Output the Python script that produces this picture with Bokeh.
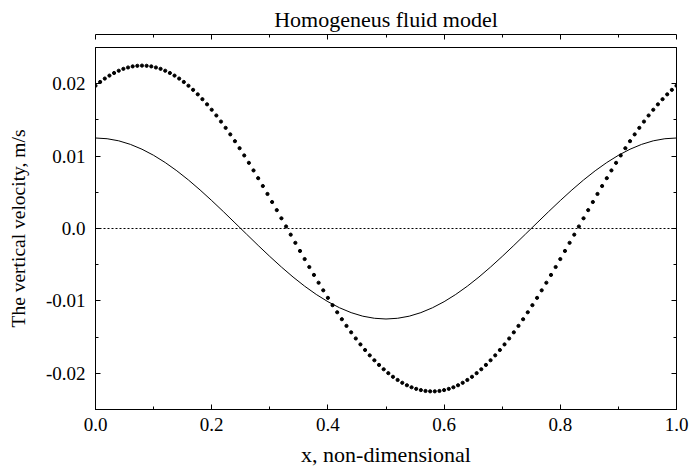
import numpy as np
from bokeh.plotting import figure
from bokeh.models import (Range1d, LinearAxis, FixedTicker, CustomJSTickFormatter, Span, Title)
from bokeh.embed import file_html
from bokeh.resources import INLINE

title_text = "Homogeneus fluid model"
x_label = "x, non-dimensional"
y_label = "The vertical velocity, m/s"

x_ticks = [0.0, 0.2, 0.4, 0.6, 0.8, 1.0]
x_tick_labels = ["0.0", "0.2", "0.4", "0.6", "0.8", "1.0"]
x_minor = [0.1, 0.3, 0.5, 0.7, 0.9]
y_ticks = [-0.02, -0.01, 0.0, 0.01, 0.02]
y_tick_labels = ["-0.02", "-0.01", "0.0", "0.01", "0.02"]
y_minor = [-0.025, -0.015, -0.005, 0.005, 0.015, 0.025]

# solid curve, sampled every 0.02 in x
solid_v = [0.01250, 0.01240, 0.01211, 0.01162, 0.01095, 0.01011, 0.00911, 0.00797, 0.00670, 0.00532,
           0.00386, 0.00234, 0.00078, -0.00078, -0.00234, -0.00386, -0.00532, -0.00670, -0.00797, -0.00911,
           -0.01011, -0.01095, -0.01162, -0.01211, -0.01240, -0.01250, -0.01240, -0.01211, -0.01162, -0.01095,
           -0.01011, -0.00911, -0.00797, -0.00670, -0.00532, -0.00386, -0.00234, -0.00078, 0.00078, 0.00234,
           0.00386, 0.00532, 0.00670, 0.00797, 0.00911, 0.01011, 0.01095, 0.01162, 0.01211, 0.01240, 0.01250]

# dotted curve, sampled every 0.008 in x
dotted_v = [0.01972, 0.02024, 0.02071, 0.02112, 0.02148, 0.02179, 0.02205, 0.02224, 0.02239, 0.02247,
            0.02250, 0.02247, 0.02239, 0.02224, 0.02205, 0.02179, 0.02148, 0.02112, 0.02071, 0.02024,
            0.01972, 0.01915, 0.01853, 0.01786, 0.01715, 0.01640, 0.01561, 0.01477, 0.01390, 0.01300,
            0.01206, 0.01109, 0.01009, 0.00907, 0.00802, 0.00695, 0.00587, 0.00477, 0.00366, 0.00254,
            0.00141, 0.00028, -0.00085, -0.00198, -0.00310, -0.00422, -0.00532, -0.00641, -0.00749, -0.00854,
            -0.00958, -0.01059, -0.01157, -0.01253, -0.01345, -0.01434, -0.01519, -0.01601, -0.01678, -0.01752,
            -0.01820, -0.01884, -0.01944, -0.01998, -0.02048, -0.02092, -0.02131, -0.02165, -0.02193, -0.02215,
            -0.02232, -0.02244, -0.02249, -0.02249, -0.02244, -0.02232, -0.02215, -0.02193, -0.02165, -0.02131,
            -0.02092, -0.02048, -0.01998, -0.01944, -0.01884, -0.01820, -0.01752, -0.01678, -0.01601, -0.01519,
            -0.01434, -0.01345, -0.01253, -0.01157, -0.01059, -0.00958, -0.00854, -0.00749, -0.00641, -0.00532,
            -0.00422, -0.00310, -0.00198, -0.00085, 0.00028, 0.00141, 0.00254, 0.00366, 0.00477, 0.00587,
            0.00695, 0.00802, 0.00907, 0.01009, 0.01109, 0.01206, 0.01300, 0.01390, 0.01477, 0.01561,
            0.01640, 0.01715, 0.01786, 0.01853, 0.01915, 0.01972]

solid_x = np.linspace(0.0, 1.0, len(solid_v))
dotted_x = np.linspace(0.0, 1.0, len(dotted_v))

FONT = "Liberation Serif"

p = figure(width=689, height=470, output_backend="svg", toolbar_location=None,
           x_range=Range1d(0.0, 1.0), y_range=Range1d(-0.025, 0.025),
           x_axis_location=None, y_axis_location=None,
           min_border_left=95, min_border_right=13, min_border_top=47, min_border_bottom=61)
p.grid.visible = False
p.background_fill_color = "white"
p.border_fill_color = "white"
p.outline_line_color = "black"
p.outline_line_width = 1

p.title.text = title_text
p.title.align = "center"
p.title.text_font = FONT
p.title.text_font_size = "22px"
p.title.text_font_style = "normal"
p.title.text_color = "black"
p.title.standoff = 6

# blank spacer band between the title and the frame
p.add_layout(Title(text=" ", text_font_size="8px", standoff=2), "above")


def fmt(ticks, labels):
    return CustomJSTickFormatter(args=dict(t=ticks, l=labels), code="""
        let best = 0, d = 1e9;
        for (let i = 0; i < t.length; i++) {
            const e = Math.abs(t[i] - tick);
            if (e < d) { d = e; best = i; }
        }
        return l[best];
    """)


def style(ax, show):
    ax.axis_line_color = "black"
    ax.major_tick_line_color = "black"
    ax.minor_tick_line_color = "black"
    ax.major_tick_in = 5
    ax.major_tick_out = 0
    ax.minor_tick_in = 3
    ax.minor_tick_out = 0
    ax.major_label_text_font = FONT
    ax.major_label_text_color = "black"
    ax.axis_label_text_font = FONT
    ax.axis_label_text_font_style = "normal"
    ax.axis_label_text_color = "black"
    if show:
        ax.major_label_text_font_size = "19px"
    else:
        ax.major_label_text_font_size = "0px"
        ax.major_label_standoff = 0


xt = FixedTicker(ticks=x_ticks, minor_ticks=x_minor)
yt = FixedTicker(ticks=y_ticks, minor_ticks=y_minor)

xb = LinearAxis(ticker=xt, formatter=fmt(x_ticks, x_tick_labels), axis_label=x_label)
style(xb, True)
xb.axis_label_text_font_size = "22px"
xb.major_label_standoff = 8
xb.axis_label_standoff = 8
p.add_layout(xb, "below")

yl = LinearAxis(ticker=yt, formatter=fmt(y_ticks, y_tick_labels), axis_label=y_label)
style(yl, True)
yl.axis_label_text_font_size = "19.5px"
yl.major_label_standoff = 10
yl.axis_label_standoff = 14
p.add_layout(yl, "left")

xa = LinearAxis(ticker=xt, formatter=fmt(x_ticks, ["", "", "", "", "", ""]))
style(xa, False)
p.add_layout(xa, "above")

yr = LinearAxis(ticker=yt, formatter=fmt(y_ticks, ["", "", "", "", ""]))
style(yr, False)
p.add_layout(yr, "right")

p.add_layout(Span(location=0.0, dimension="width", line_color="black",
                  line_width=1, line_dash="2 2"))

p.line(solid_x, solid_v, line_color="black", line_width=1)
p.scatter(dotted_x, dotted_v, size=3.2, color="black")

open("out.html", "w").write(file_html(p, INLINE))
